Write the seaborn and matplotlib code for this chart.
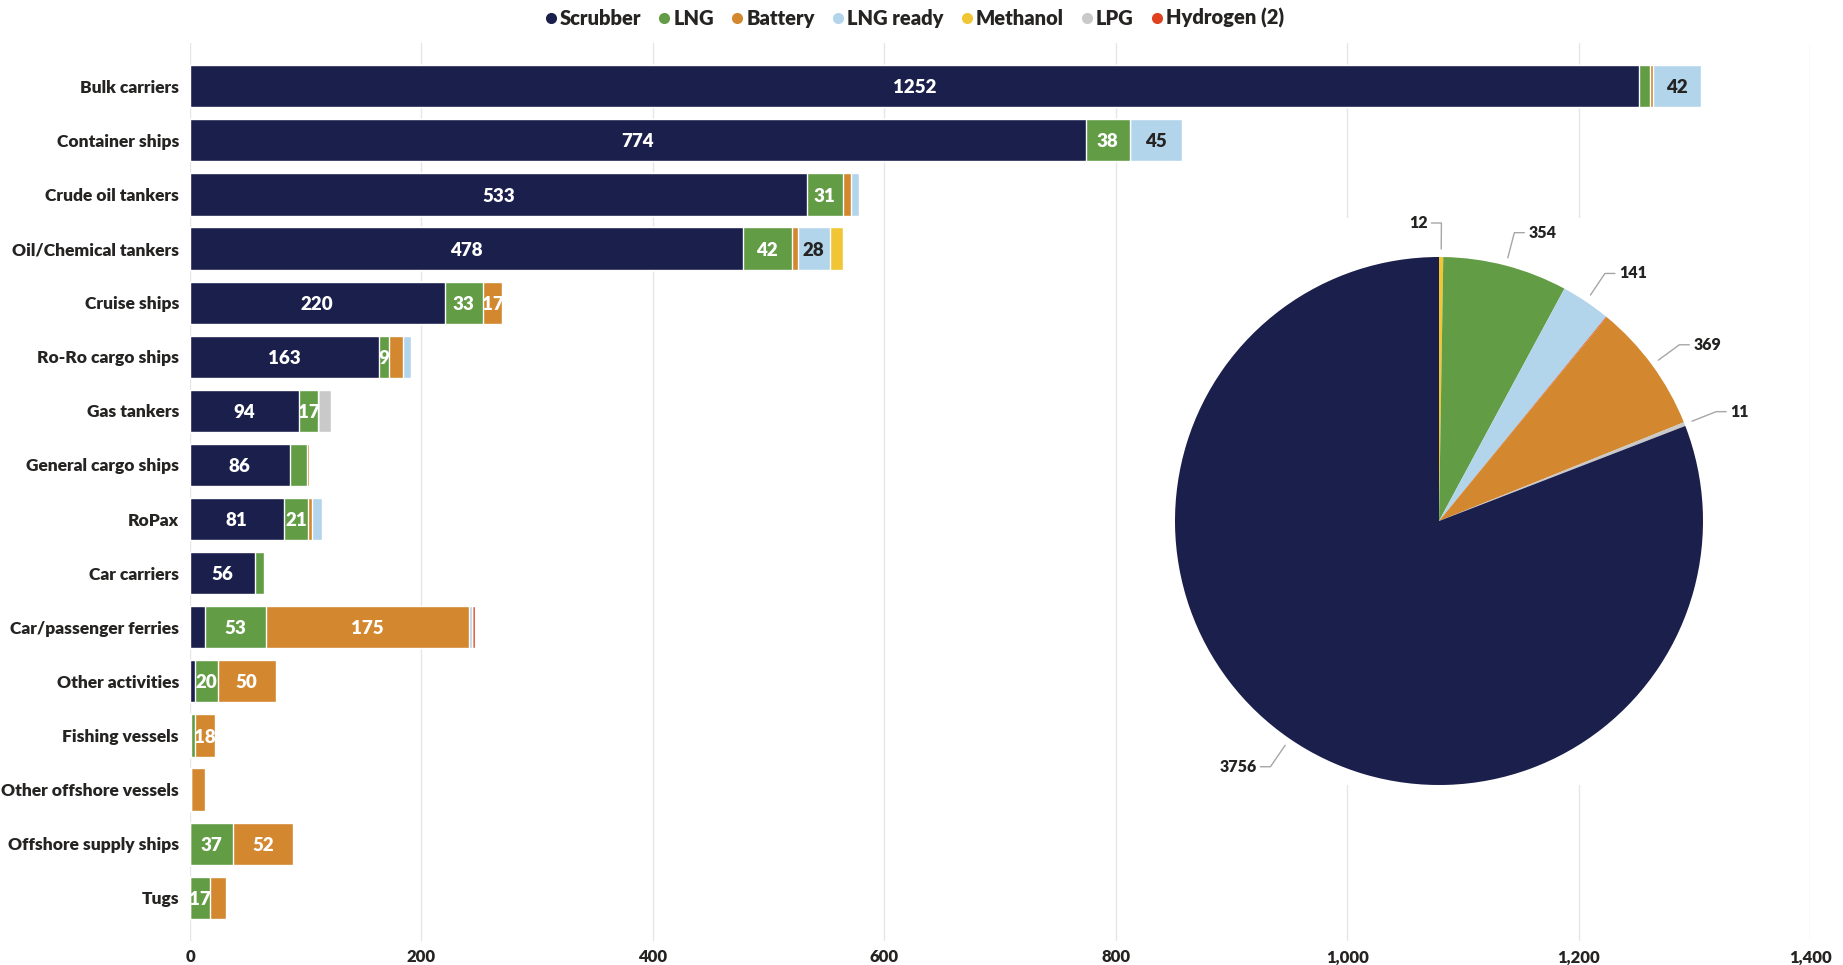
import matplotlib
matplotlib.use("Agg")
import matplotlib.pyplot as plt
import seaborn as sns
import numpy as np
from matplotlib.lines import Line2D
from matplotlib.ticker import FuncFormatter, MultipleLocator

# --- data -------------------------------------------------------------------
categories = ["Bulk carriers", "Container ships", "Crude oil tankers",
              "Oil/Chemical tankers", "Cruise ships", "Ro-Ro cargo ships",
              "Gas tankers", "General cargo ships", "RoPax", "Car carriers",
              "Car/passenger ferries", "Other activities", "Fishing vessels",
              "Other offshore vessels", "Offshore supply ships", "Tugs"]

series_names = ["Scrubber", "LNG", "Battery", "LNG ready", "Methanol", "LPG", "Hydrogen"]

scrubber  = [1252, 774, 533, 478, 220, 163, 94, 86, 81, 56, 13, 4, 1, 1, 0, 0]
lng       = [10, 38, 31, 42, 33, 9, 17, 15, 21, 8, 53, 20, 3, 0, 37, 17]
battery   = [2, 0, 7, 5, 17, 12, 0, 2, 3, 0, 175, 50, 18, 12, 52, 14]
lng_ready = [42, 45, 7, 28, 0, 7, 0, 0, 9, 0, 3, 0, 0, 0, 0, 0]
methanol  = [0, 0, 0, 11, 0, 0, 0, 0, 1, 0, 0, 0, 0, 0, 0, 0]
lpg       = [0, 0, 0, 0, 0, 0, 11, 0, 0, 0, 0, 0, 0, 0, 0, 0]
hydrogen  = [0, 0, 0, 0, 0, 0, 0, 0, 0, 0, 2, 0, 0, 0, 0, 0]

series_values = [scrubber, lng, battery, lng_ready, methanol, lpg, hydrogen]

colors = {"Scrubber": "#1B1F4B", "LNG": "#629C45", "Battery": "#D3872E",
          "LNG ready": "#B2D5EC", "Methanol": "#F1C634", "LPG": "#C9C9C9",
          "Hydrogen": "#E0421F"}

# segments that get a value label even though they are narrow
extra_labels = [("Ro-Ro cargo ships", "LNG")]
label_min = 17

# pie slice order (clockwise from 12 o'clock)
pie_order = ["Methanol", "LNG", "LNG ready", "Hydrogen", "Battery", "LPG", "Scrubber"]
pie_unlabelled = ["Hydrogen"]

# --- style -----------------------------------------------------------------
sns.set_theme(style="white")
plt.rcParams["font.family"] = ["Lato", "DejaVu Sans"]
TXT = "#252423"

W, H = 1843, 965
fig = plt.figure(figsize=(W / 100, H / 100), dpi=100)
ax = fig.add_axes([190 / W, 1 - 941 / H, 1620 / W, 898 / H])

# stacked horizontal bars: draw cumulative totals from the outermost layer inwards
arr = np.array(series_values, dtype=float)
cum = np.cumsum(arr, axis=0)
for i in reversed(range(len(series_names))):
    sns.barplot(x=cum[i], y=categories, color=colors[series_names[i]],
                orient="h", width=0.78, saturation=1, errorbar=None, ax=ax)

# value labels centred in each segment
for i, name in enumerate(series_names):
    for j, cat in enumerate(categories):
        v = arr[i, j]
        if v <= 0:
            continue
        if v >= label_min or (cat, name) in extra_labels:
            centre = cum[i, j] - v / 2
            tc = TXT if name == "LNG ready" else "white"
            ax.text(centre, j + 0.03, f"{int(v)}", ha="center", va="center",
                    fontsize=13.5, fontweight="heavy", color=tc)

ax.set_xlim(0, 1400)
ax.set_ylim(len(categories) - 0.2, -0.8)
ax.xaxis.set_major_locator(MultipleLocator(200))
ax.xaxis.set_major_formatter(FuncFormatter(lambda v, p: f"{v:,.0f}"))
ax.grid(axis="x", color="#E6E6E6", linewidth=1)
ax.set_axisbelow(True)
for s in ax.spines.values():
    s.set_visible(False)
ax.set_xlabel("")
ax.set_ylabel("")
ax.tick_params(axis="y", length=0, pad=8, labelsize=12.5, labelcolor=TXT)
ax.tick_params(axis="x", length=0, pad=6, labelsize=12, labelcolor=TXT)
for lab in ax.get_yticklabels() + ax.get_xticklabels():
    lab.set_fontweight("heavy")

# legend
handles = [Line2D([0], [0], marker="o", linestyle="", markersize=8,
                  markerfacecolor=colors[n], markeredgewidth=0) for n in series_names]
legend_labels = [n if n != "Hydrogen" else f"Hydrogen ({int(sum(hydrogen))})"
                 for n in series_names]
leg = fig.legend(handles, legend_labels, loc="center", bbox_to_anchor=(0.4955, 0.9813),
                 ncol=len(series_names), frameon=False, handletextpad=0.05,
                 columnspacing=0.75, handlelength=0.8,
                 prop={"size": 14.5, "weight": "heavy"})
for t in leg.get_texts():
    t.set_color(TXT)

# --- pie of totals by technology ------------------------------------------------
totals = {n: sum(v) for n, v in zip(series_names, series_values)}
pie_vals = [totals[n] for n in pie_order]
pie_cols = [colors[n] for n in pie_order]

R = 264
pax = fig.add_axes([1140 / W, 1 - 785 / H, 600 / W, 567 / H])
wedges, _ = pax.pie(pie_vals, colors=pie_cols, startangle=90, counterclock=False,
                    radius=R, wedgeprops=dict(linewidth=0))
pax.set_xlim(-299, 301)
pax.set_ylim(-264, 303)
pax.set_aspect("equal")
pax.set_frame_on(True)
for s in pax.spines.values():
    s.set_visible(False)
pax.patch.set_facecolor("white")
pax.set_xticks([])
pax.set_yticks([])

for w, name, val in zip(wedges, pie_order, pie_vals):
    if name in pie_unlabelled:
        continue
    ang = np.deg2rad((w.theta1 + w.theta2) / 2)
    d = np.array([np.cos(ang), np.sin(ang)])
    p1 = (R + 8) * d
    p2 = (R + 34) * d
    side = 1 if p2[0] > 10 else -1
    p3 = p2 + np.array([10 * side, 0])
    pax.plot([p1[0], p2[0], p3[0]], [p1[1], p2[1], p3[1]], color="#A6A6A6", lw=1)
    pax.text(p3[0] + 4 * side, p3[1], f"{int(val)}", ha="left" if side > 0 else "right",
             va="center", fontsize=11.5, fontweight="heavy", color=TXT)

fig.savefig("out.png", dpi=100)
